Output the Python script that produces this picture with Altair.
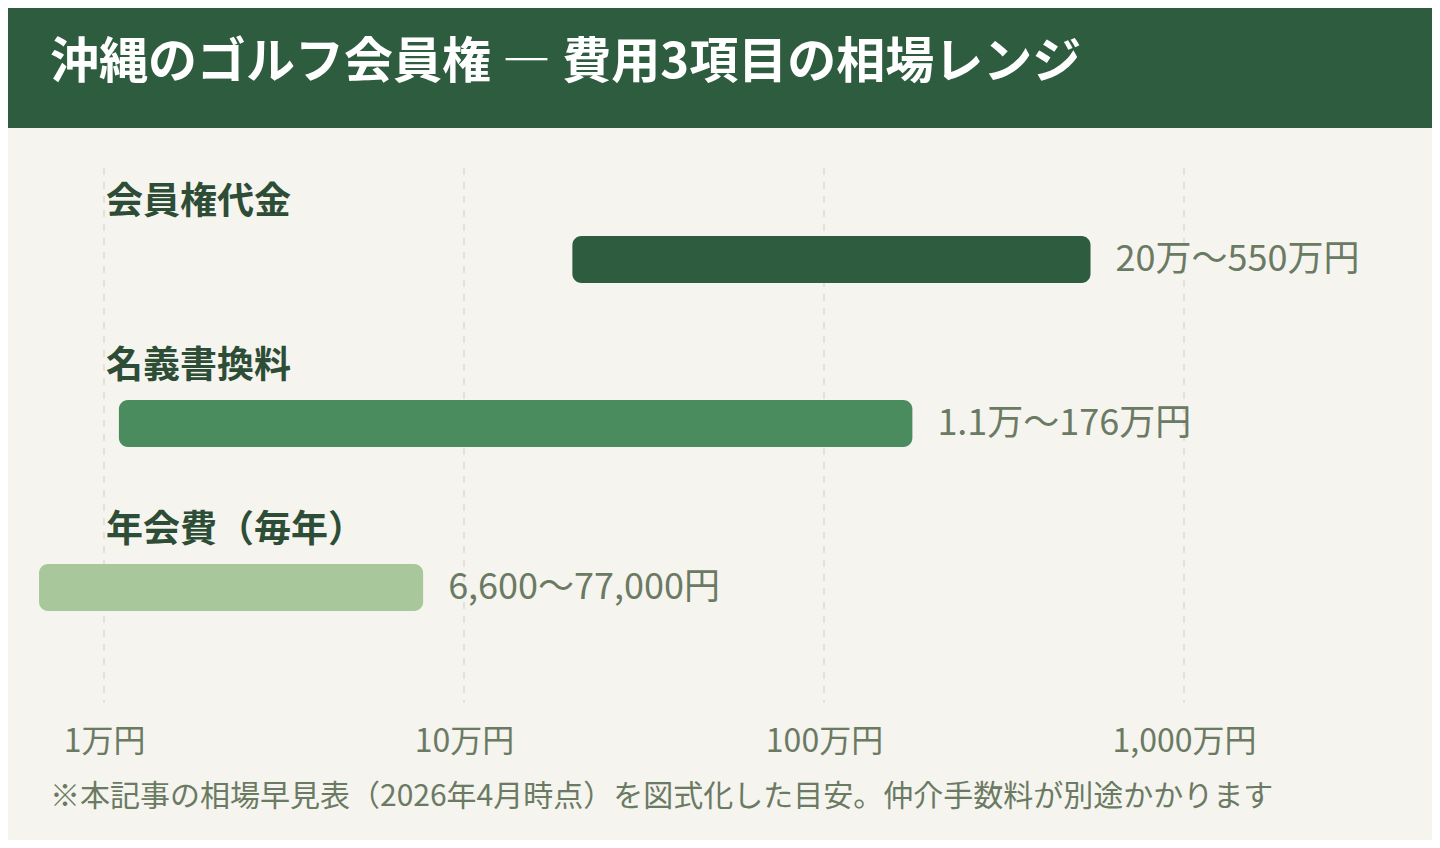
import pandas as pd
import altair as alt

# data (values in 万円)
items = ["会員権代金", "名義書換料", "年会費（毎年）"]
low = [20, 1.1, 0.66]
high = [550, 176, 7.7]
range_labels = ["20万～550万円", "1.1万～176万円", "6,600～77,000円"]
bar_colors = ["#2e5c3e", "#4a8c5e", "#a8c79b"]
tick_values = [1, 10, 100, 1000]

title_text = "沖縄のゴルフ会員権 ― 費用3項目の相場レンジ"
note_text = "※本記事の相場早見表（2026年4月時点）を図式化した目安。仲介手数料が別途かかります"

c_font = "Noto Sans CJK JP"
c_bg = "#f5f4ee"
c_dark = "#2e5c3e"
c_gray = "#6b7a63"

c_width = 1424
c_height = 535

df = pd.DataFrame({"item": items, "low": low, "high": high, "label": range_labels})
df_ticks = pd.DataFrame({"tick": tick_values})

x_scale = alt.Scale(type="log", domain=[1, 1000], range=[96, 1176], nice=False)
y_scale = alt.Scale(type="point", domain=items, range=[91.5, 419.5], padding=0)

base = alt.Chart(df)

# dashed grid lines over the whole plot height
grid = alt.Chart(df_ticks).mark_rule(strokeDash=[7, 7], color="#dcdbd3", strokeWidth=1.5).encode(
    x=alt.X("tick:Q", scale=x_scale),
    y=alt.value(0),
    y2=alt.value(c_height),
)

bars = base.mark_bar(size=47, cornerRadius=9).encode(
    x=alt.X("low:Q", scale=x_scale, title=None,
            axis=alt.Axis(values=tick_values, domain=False, ticks=False, grid=False,
                          labelExpr="format(datum.value, ',') + '万円'",
                          labelFont=c_font, labelFontSize=32, labelColor=c_gray,
                          labelBaseline="middle", labelPadding=38, labelFlush=False)),
    x2="high:Q",
    y=alt.Y("item:N", scale=y_scale, axis=None),
    color=alt.Color("item:N", scale=alt.Scale(domain=items, range=bar_colors), legend=None),
)

names = base.mark_text(align="left", baseline="middle", dy=-57, font=c_font,
                       fontSize=37, fontWeight="bold", color="#2e4d36").encode(
    x=alt.value(98),
    y=alt.Y("item:N", scale=y_scale, axis=None),
    text="item:N",
)

values = base.mark_text(align="left", baseline="middle", dx=25, font=c_font,
                        fontSize=36, color=c_gray).encode(
    x=alt.X("high:Q", scale=x_scale),
    y=alt.Y("item:N", scale=y_scale, axis=None),
    text="label:N",
)

one = alt.Chart(pd.DataFrame({"a": [0]}))

band = one.mark_rect(color=c_dark).encode(
    x=alt.value(-10), x2=alt.value(c_width + 10),
    y=alt.value(-170), y2=alt.value(-40),
)

title = one.mark_text(align="left", baseline="middle", font=c_font, fontSize=49,
                      fontWeight="bold", color="white").encode(
    x=alt.value(42), y=alt.value(-105), text=alt.value(title_text),
)

note = one.mark_text(align="left", baseline="middle", font=c_font, fontSize=30,
                     color=c_gray).encode(
    x=alt.value(42), y=alt.value(629), text=alt.value(note_text),
)

chart = (
    alt.layer(band, title, grid, bars, names, values, note)
    .properties(
        width=c_width,
        height=c_height,
        background=c_bg,
        autosize=alt.AutoSizeParams(type="none"),
        padding={"left": 0, "right": 0, "top": 160, "bottom": 137},
    )
    .configure_view(strokeWidth=0)
)

chart.save("out.html", embed_options={"renderer": "svg", "actions": False})
